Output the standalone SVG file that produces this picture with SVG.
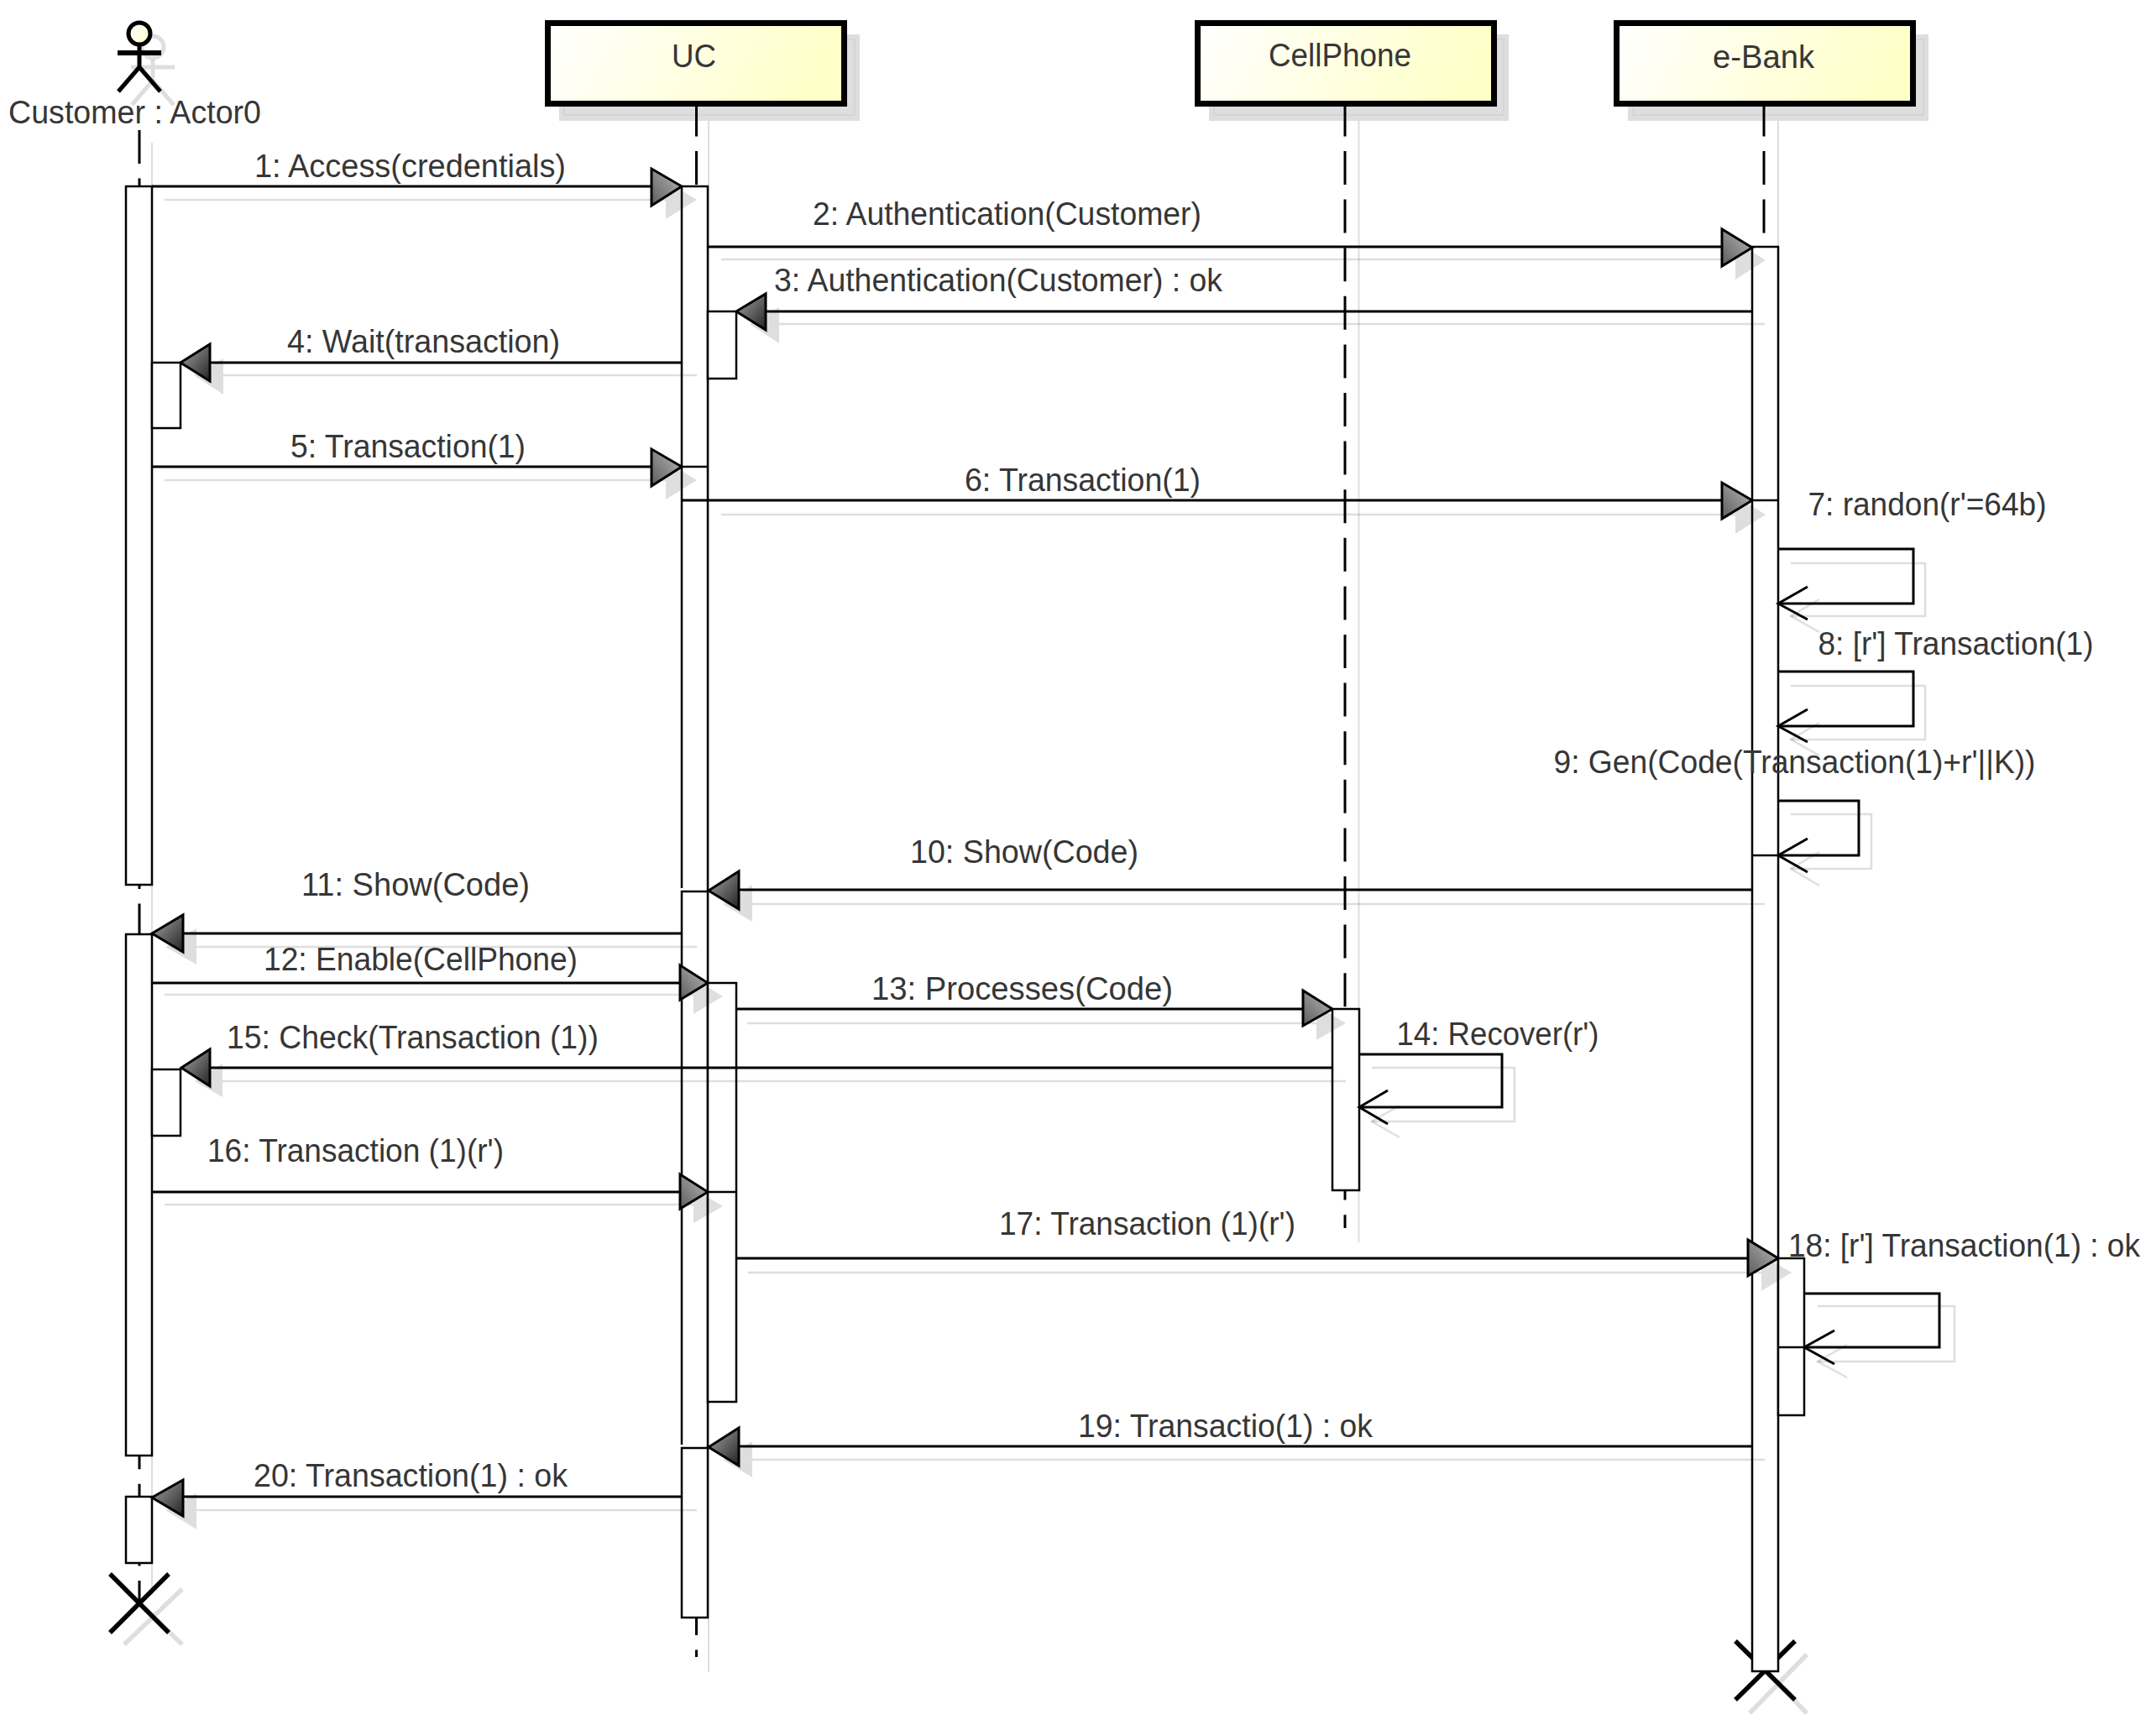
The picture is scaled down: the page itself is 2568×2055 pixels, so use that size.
<svg xmlns="http://www.w3.org/2000/svg" width="2568" height="2055" viewBox="0 0 2568 2055">
<style>
text{font-family:"Liberation Sans",Arial,sans-serif;font-size:38px;fill:#363636}
.box{fill:url(#boxFill);stroke:#000;stroke-width:7}
.boxS{fill:#dedede}
.boxS2{fill:none;stroke:#d5d5d5;stroke-width:2}
.life{fill:none;stroke:#000;stroke-width:3;stroke-dasharray:40 17.6}
.lifeS{fill:none;stroke:#000;stroke-opacity:.13;stroke-width:2}
.bar{fill:#fff;stroke:#000;stroke-width:2.5}
.barF{fill:#fff}
.barL{fill:none;stroke:#000;stroke-width:2.5}
.x{fill:none;stroke:#000;stroke-width:5.5}
.xS{fill:none;stroke:#000;stroke-opacity:.13;stroke-width:5.5}
.ln{fill:none;stroke:#000;stroke-width:3}
.lnS{fill:none;stroke:#000;stroke-opacity:.13;stroke-width:2.5}
.aR{fill:url(#arrowR);stroke:#000;stroke-width:3;stroke-linejoin:miter}
.aL{fill:url(#arrowL);stroke:#000;stroke-width:3;stroke-linejoin:miter}
.aS{fill:#000;fill-opacity:.13}
.open{fill:none;stroke:#000;stroke-width:3}
.fig{fill:none;stroke:#000;stroke-width:5}
.figS{fill:none;stroke:#000;stroke-opacity:.13;stroke-width:5}
</style>
<defs>
<linearGradient id="boxFill" x1="0" y1="0" x2="1" y2="0.15"><stop offset="0" stop-color="#ffffff"/><stop offset="1" stop-color="#ffffc8"/></linearGradient>
<linearGradient id="arrowR" x1="1" y1="0" x2="0" y2="1"><stop offset="0" stop-color="#bbbbbb"/><stop offset="1" stop-color="#5c5c5c"/></linearGradient>
<linearGradient id="arrowL" x1="0" y1="0" x2="1" y2="1"><stop offset="0" stop-color="#a8a8a8"/><stop offset="1" stop-color="#222222"/></linearGradient>
<linearGradient id="headFill" x1="0" y1="0" x2="1" y2="1"><stop offset="0" stop-color="#ffffff"/><stop offset="1" stop-color="#ffffc8"/></linearGradient>
</defs>
<rect width="2568" height="2055" fill="#fff"/>
<g id="node-customer">
<g class="figS"><circle cx="182" cy="56" r="13"/><path d="M156 80H208M182 71V96M182 96L157 125M182 96L207 125"/></g>
<line class="lifeS" x1="181" y1="170" x2="181" y2="1900"/>
<line class="life" x1="166" y1="155" x2="166" y2="1910"/>
<circle cx="166" cy="40" r="13" fill="url(#headFill)" stroke="#000" stroke-width="5"/>
<path class="fig" d="M166 53V80M166 80L141 109M166 80L191 109"/>
<path d="M140 63H192" fill="none" stroke="#000" stroke-width="6"/>
<path class="xS" d="M148 1893L217 1959M217 1893L148 1959"/>
<path class="x" d="M131 1875L201 1945M201 1875L131 1945"/>
<rect class="bar" x="150" y="222" width="31" height="832"/>
<rect class="bar" x="150" y="1113" width="31" height="621"/>
<rect class="bar" x="150" y="1783" width="31" height="79"/>
<rect class="bar" x="181" y="432" width="34" height="78"/>
<rect class="bar" x="181" y="1274" width="34" height="79"/>
<text x="10" y="147" textLength="301" lengthAdjust="spacingAndGlyphs">Customer : Actor0</text>
</g>
<g id="node-uc">
<rect class="boxS" x="666" y="41" width="358" height="103"/>
<rect class="boxS2" x="672" y="47" width="346" height="90"/>
<line class="lifeS" x1="844" y1="144" x2="844" y2="1992"/>
<line class="life" x1="829.5" y1="122.4" x2="829.5" y2="1974"/>
<rect class="box" x="652.5" y="27.5" width="353" height="96"/>
<rect class="barF" x="812" y="222" width="31" height="1705"/>
<path class="barL" d="M812 1058V222H843V1927H812V1725H843M812 1721V1062H843M812 556H843"/>
<rect class="bar" x="843" y="371" width="34" height="80"/>
<rect class="bar" x="843" y="1171" width="34" height="499"/>
<line class="barL" x1="843" y1="1420" x2="877" y2="1420"/>
<text x="800" y="80" textLength="53" lengthAdjust="spacingAndGlyphs">UC</text>
</g>
<g id="node-cellphone">
<rect class="boxS" x="1440" y="41" width="357" height="103"/>
<rect class="boxS2" x="1446" y="47" width="345" height="90"/>
<line class="lifeS" x1="1618.5" y1="144" x2="1618.5" y2="1480"/>
<line class="life" x1="1602" y1="122.4" x2="1602" y2="1463"/>
<rect class="box" x="1426.5" y="27.5" width="353" height="96"/>
<rect class="bar" x="1587" y="1202" width="32" height="216"/>
<text x="1511" y="79" textLength="170" lengthAdjust="spacingAndGlyphs">CellPhone</text>
</g>
<g id="node-ebank">
<rect class="boxS" x="1939" y="41" width="358" height="103"/>
<rect class="boxS2" x="1945" y="47" width="346" height="90"/>
<line class="lifeS" x1="2118" y1="144" x2="2118" y2="294"/>
<line class="life" x1="2101" y1="122.4" x2="2101" y2="294"/>
<rect class="box" x="1925.5" y="27.5" width="353" height="96"/>
<path class="xS" d="M2084 1971L2152 2041M2152 1971L2084 2041"/>
<path class="x" d="M2067 1955L2138 2025M2138 1955L2067 2025"/>
<rect class="bar" x="2087" y="294" width="31" height="1697"/>
<line class="barL" x1="2087" y1="596" x2="2118" y2="596"/>
<line class="barL" x1="2087" y1="1019" x2="2118" y2="1019"/>
<rect class="bar" x="2118" y="1499" width="31" height="187"/>
<line class="barL" x1="2118" y1="1605" x2="2149" y2="1605"/>
<text x="2040" y="81" textLength="121" lengthAdjust="spacingAndGlyphs">e-Bank</text>
</g>
<g id="connectors">
<g id="m1"><line class="lnS" x1="196" y1="238" x2="793" y2="238"/><polygon class="aS" points="830,238 793,216 793,261"/><line class="ln" x1="181" y1="222" x2="776" y2="222"/><polygon class="aR" points="812,222 776,201 776,245"/><text x="303" y="211" textLength="371" lengthAdjust="spacingAndGlyphs">1: Access(credentials)</text></g>
<g id="m2"><line class="lnS" x1="859" y1="309" x2="2067" y2="309"/><polygon class="aS" points="2103,310 2067,288 2067,333"/><line class="ln" x1="843" y1="294" x2="2051" y2="294"/><polygon class="aR" points="2087,295 2051,273 2051,317"/><text x="968" y="268" textLength="463" lengthAdjust="spacingAndGlyphs">2: Authentication(Customer)</text></g>
<g id="m3"><line class="lnS" x1="928" y1="386" x2="2102" y2="386"/><polygon class="aS" points="893,386 928,366 928,409"/><line class="ln" x1="912" y1="371" x2="2087" y2="371"/><polygon class="aL" points="877,371 912,350 912,393"/><text x="922" y="347" textLength="534" lengthAdjust="spacingAndGlyphs">3: Authentication(Customer) : ok</text></g>
<g id="m4"><line class="lnS" x1="266" y1="447" x2="830" y2="447"/><polygon class="aS" points="231,447 266,427 266,470"/><line class="ln" x1="250" y1="432" x2="812" y2="432"/><polygon class="aL" points="215,432 250,410 250,454"/><text x="342" y="420" textLength="325" lengthAdjust="spacingAndGlyphs">4: Wait(transaction)</text></g>
<g id="m5"><line class="lnS" x1="196" y1="572" x2="793" y2="572"/><polygon class="aS" points="830,572 793,550 793,595"/><line class="ln" x1="181" y1="556" x2="776" y2="556"/><polygon class="aR" points="812,556 776,535 776,579"/><text x="346" y="545" textLength="280" lengthAdjust="spacingAndGlyphs">5: Transaction(1)</text></g>
<g id="m6"><line class="lnS" x1="859" y1="613" x2="2067" y2="613"/><polygon class="aS" points="2103,613 2067,591 2067,636"/><line class="ln" x1="812" y1="596" x2="2051" y2="596"/><polygon class="aR" points="2087,596 2051,575 2051,618"/><text x="1149" y="585" textLength="281" lengthAdjust="spacingAndGlyphs">6: Transaction(1)</text></g>
<g id="m7"><polyline class="lnS" points="2133,671 2293,671 2293,734 2133,734"/><polyline class="lnS" points="2167,714 2133,734 2167,753"/><polyline class="ln" points="2118,654 2279,654 2279,719 2118,719"/><polyline class="open" points="2153,699 2118,719 2153,738"/><text x="2153.5" y="614" textLength="284" lengthAdjust="spacingAndGlyphs">7: randon(r'=64b)</text></g>
<g id="m8"><polyline class="lnS" points="2133,817 2293,817 2293,881 2133,881"/><polyline class="lnS" points="2167,861 2133,881 2167,900"/><polyline class="ln" points="2118,800 2279,800 2279,865 2118,865"/><polyline class="open" points="2153,845 2118,865 2153,884"/><text x="2165.5" y="780" textLength="328" lengthAdjust="spacingAndGlyphs">8: [r'] Transaction(1)</text></g>
<g id="m9"><polyline class="lnS" points="2133,970 2229,970 2229,1035 2133,1035"/><polyline class="lnS" points="2167,1015 2133,1035 2167,1055"/><polyline class="ln" points="2118,954 2214,954 2214,1019 2118,1019"/><polyline class="open" points="2153,999 2118,1019 2153,1039"/><text x="1850.5" y="921" textLength="574" lengthAdjust="spacingAndGlyphs">9: Gen(Code(Transaction(1)+r'||K))</text></g>
<g id="m10"><line class="lnS" x1="896" y1="1077" x2="2102" y2="1077"/><polygon class="aS" points="861,1077 896,1054 896,1098"/><line class="ln" x1="880" y1="1060" x2="2087" y2="1060"/><polygon class="aL" points="844,1061 880,1038 880,1083"/><text x="1084" y="1028" textLength="272" lengthAdjust="spacingAndGlyphs">10: Show(Code)</text></g>
<g id="m11"><line class="lnS" x1="234" y1="1128" x2="830" y2="1128"/><polygon class="aS" points="197,1128 234,1106 234,1149"/><line class="ln" x1="218" y1="1112" x2="812" y2="1112"/><polygon class="aL" points="181,1112 218,1090 218,1134"/><text x="359" y="1067" textLength="272" lengthAdjust="spacingAndGlyphs">11: Show(Code)</text></g>
<g id="m12"><line class="lnS" x1="196" y1="1185" x2="826" y2="1185"/><polygon class="aS" points="861,1187 826,1166 826,1208"/><line class="ln" x1="181" y1="1171" x2="810" y2="1171"/><polygon class="aR" points="843,1171 810,1150 810,1191"/><text x="314" y="1156" textLength="374" lengthAdjust="spacingAndGlyphs">12: Enable(CellPhone)</text></g>
<g id="m13"><line class="lnS" x1="890" y1="1219" x2="1568" y2="1219"/><polygon class="aS" points="1603,1219 1568,1198 1568,1239"/><line class="ln" x1="877" y1="1202" x2="1552" y2="1202"/><polygon class="aR" points="1587,1202 1552,1180 1552,1222"/><text x="1038" y="1191" textLength="359" lengthAdjust="spacingAndGlyphs">13: Processes(Code)</text></g>
<g id="m14"><polyline class="lnS" points="1634,1272 1804,1272 1804,1336 1634,1336"/><polyline class="lnS" points="1667,1317 1634,1336 1667,1355"/><polyline class="ln" points="1619,1256 1789,1256 1789,1319 1619,1319"/><polyline class="open" points="1653,1299 1619,1319 1653,1339"/><text x="1663.5" y="1245" textLength="241" lengthAdjust="spacingAndGlyphs">14: Recover(r')</text></g>
<g id="m15"><line class="lnS" x1="265" y1="1288" x2="1603" y2="1288"/><polygon class="aS" points="232,1288 265,1267 265,1307"/><line class="ln" x1="250" y1="1272" x2="1587" y2="1272"/><polygon class="aL" points="216,1272 250,1250 250,1294"/><text x="270" y="1249" textLength="443" lengthAdjust="spacingAndGlyphs">15: Check(Transaction (1))</text></g>
<g id="m16"><line class="lnS" x1="196" y1="1435" x2="826" y2="1435"/><polygon class="aS" points="861,1437 826,1416 826,1457"/><line class="ln" x1="181" y1="1420" x2="810" y2="1420"/><polygon class="aR" points="843,1420 810,1399 810,1440"/><text x="247" y="1384" textLength="353" lengthAdjust="spacingAndGlyphs">16: Transaction (1)(r')</text></g>
<g id="m17"><line class="lnS" x1="891" y1="1516" x2="2098" y2="1516"/><polygon class="aS" points="2134,1516 2098,1495 2098,1538"/><line class="ln" x1="877" y1="1499" x2="2082" y2="1499"/><polygon class="aR" points="2118,1499 2082,1477 2082,1520"/><text x="1190" y="1471" textLength="353" lengthAdjust="spacingAndGlyphs">17: Transaction (1)(r')</text></g>
<g id="m18"><polyline class="lnS" points="2165,1556 2328,1556 2328,1622 2165,1622"/><polyline class="lnS" points="2200,1602 2165,1622 2200,1641"/><polyline class="ln" points="2149,1541 2310,1541 2310,1605 2149,1605"/><polyline class="open" points="2185,1585 2149,1605 2185,1625"/><text x="2130" y="1497" textLength="419" lengthAdjust="spacingAndGlyphs">18: [r'] Transaction(1) : ok</text></g>
<g id="m19"><line class="lnS" x1="896" y1="1739" x2="2102" y2="1739"/><polygon class="aS" points="861,1739 896,1717 896,1760"/><line class="ln" x1="880" y1="1723" x2="2087" y2="1723"/><polygon class="aL" points="844,1724 880,1701 880,1746"/><text x="1284" y="1712" textLength="351" lengthAdjust="spacingAndGlyphs">19: Transactio(1) : ok</text></g>
<g id="m20"><line class="lnS" x1="234" y1="1799" x2="830" y2="1799"/><polygon class="aS" points="197,1799 234,1779 234,1822"/><line class="ln" x1="218" y1="1783" x2="812" y2="1783"/><polygon class="aL" points="181,1784 218,1763 218,1806"/><text x="302" y="1771" textLength="374" lengthAdjust="spacingAndGlyphs">20: Transaction(1) : ok</text></g>
</g>
</svg>
